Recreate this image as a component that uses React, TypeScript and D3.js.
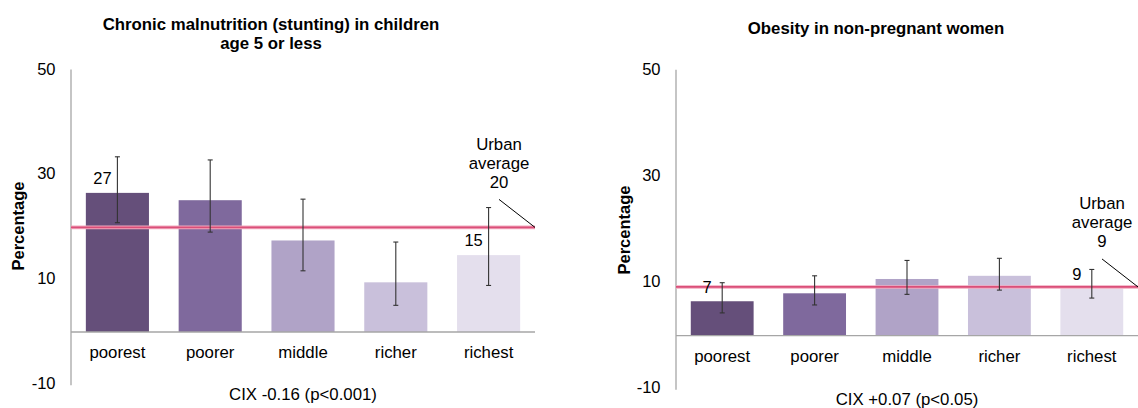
import React from "react";
import * as d3 from "d3";

const categories = ["poorest", "poorer", "middle", "richer", "richest"];
const barColors = ["#654F7A", "#7F699D", "#B0A3C7", "#C9C0DB", "#E4DFED"];
const yTicks = [50, 30, 10, -10];

const stuntingTitle = ["Chronic malnutrition (stunting) in children", "age 5 or less"];
const stuntingValues = [26.6, 25.2, 17.5, 9.5, 14.7];
const stuntingLow = [20.9, 19.1, 11.7, 5.1, 8.9];
const stuntingHigh = [33.5, 32.9, 25.4, 17.2, 23.8];
const stuntingLabels = ["27", "", "", "", "15"];
const stuntingUrban = 20;
const stuntingUrbanLabel = "20";
const stuntingCix = "CIX -0.16 (p<0.001)";

const obesityTitle = ["Obesity in non-pregnant women"];
const obesityValues = [6.5, 8.0, 10.7, 11.3, 8.9];
const obesityLow = [4.3, 5.8, 7.8, 8.6, 7.1];
const obesityHigh = [10.0, 11.3, 14.2, 14.6, 12.5];
const obesityLabels = ["7", "", "", "", "9"];
const obesityUrban = 9.2;
const obesityUrbanLabel = "9";
const obesityCix = "CIX +0.07 (p<0.05)";

const FONT = "'Liberation Sans', Arial, sans-serif";

type PanelProps = {
  title: string[];
  titleX: number;
  titleY: number[];
  values: number[];
  low: number[];
  high: number[];
  labels: string[];
  urban: number;
  urbanLabel: string;
  cix: string;
  x0: number;
  x1: number;
  yTop: number;
  yBottom: number;
  pctX: number;
  pctY: number;
  cixY: number;
};

function Panel(p: PanelProps) {
  const x = d3
    .scaleBand<string>()
    .domain(categories)
    .range([p.x0, p.x1])
    .paddingInner(0.32)
    .paddingOuter(0.16);
  const y = d3.scaleLinear().domain([-10, 50]).range([p.yBottom, p.yTop]);
  const y0 = y(0);
  const bw = x.bandwidth();
  const yu = y(p.urban);
  const ax = p.x1 - 36;
  return (
    <g>
      {p.title.map((t, i) => (
        <text
          key={"t" + i}
          x={p.titleX}
          y={p.titleY[i]}
          textAnchor="middle"
          dominantBaseline="middle"
          fontWeight="bold"
          fontSize={16.8}
          fill="#000"
        >
          {t}
        </text>
      ))}
      {yTicks.map((t) => (
        <text
          key={"yt" + t}
          x={p.x0 - 15.5}
          y={y(t)}
          textAnchor="end"
          dominantBaseline="middle"
          fontSize={16.5}
          fill="#000"
        >
          {t}
        </text>
      ))}
      <text
        transform={`translate(${p.pctX},${p.pctY}) rotate(-90)`}
        textAnchor="middle"
        dominantBaseline="middle"
        fontWeight="bold"
        fontSize={16.5}
        fill="#000"
      >
        Percentage
      </text>
      {categories.map((c, i) => (
        <rect
          key={"b" + c}
          x={x(c)}
          y={y(p.values[i])}
          width={bw}
          height={y0 - y(p.values[i])}
          fill={barColors[i]}
        />
      ))}
      <line x1={p.x0} x2={p.x0} y1={p.yTop - 1} y2={p.yBottom + 1} stroke="#A6A6A6" strokeWidth={1.3} />
      <line x1={p.x0} x2={p.x1} y1={y0} y2={y0} stroke="#A6A6A6" strokeWidth={1.3} />
      <line x1={p.x0} x2={p.x1} y1={yu} y2={yu} stroke="#F2A9BE" strokeWidth={3.6} />
      <line x1={p.x0} x2={p.x1} y1={yu} y2={yu} stroke="#DA4F79" strokeWidth={1.8} />
      {categories.map((c, i) => {
        const cx = (x(c) as number) + bw / 2;
        return (
          <g key={"e" + c} stroke="#333" strokeWidth={1.1}>
            <line x1={cx} x2={cx} y1={y(p.high[i])} y2={y(p.low[i])} />
            <line x1={cx - 2.5} x2={cx + 2.5} y1={y(p.high[i])} y2={y(p.high[i])} />
            <line x1={cx - 2.5} x2={cx + 2.5} y1={y(p.low[i])} y2={y(p.low[i])} />
          </g>
        );
      })}
      {categories.map((c, i) =>
        p.labels[i] ? (
          <text
            key={"l" + c}
            x={(x(c) as number) + bw / 2 - 15}
            y={y(p.values[i]) - 13}
            textAnchor="middle"
            dominantBaseline="middle"
            fontSize={16.5}
            fill="#000"
          >
            {p.labels[i]}
          </text>
        ) : null
      )}
      {categories.map((c) => (
        <text
          key={"c" + c}
          x={(x(c) as number) + bw / 2}
          y={y0 + 22}
          textAnchor="middle"
          dominantBaseline="middle"
          fontSize={16.8}
          fill="#000"
        >
          {c}
        </text>
      ))}
      {["Urban", "average", p.urbanLabel].map((t, i) => (
        <text
          key={"u" + i}
          x={ax}
          y={yu - 82 + i * 19}
          textAnchor="middle"
          dominantBaseline="middle"
          fontSize={16.8}
          fill="#000"
        >
          {t}
        </text>
      ))}
      <line x1={ax} y1={yu - 28} x2={p.x1} y2={yu} stroke="#000" strokeWidth={1} />
      <text
        x={(p.x0 + p.x1) / 2}
        y={p.cixY}
        textAnchor="middle"
        dominantBaseline="middle"
        fontSize={16.8}
        fill="#000"
      >
        {p.cix}
      </text>
    </g>
  );
}

export default function App() {
  return (
    <svg
      width={1138}
      height={408}
      style={{ position: "absolute", left: 0, top: 0, background: "#fff" }}
      fontFamily={FONT}
    >
      <rect width={1138} height={408} fill="#fff" />
      <Panel
        title={stuntingTitle}
        titleX={271}
        titleY={[26, 45]}
        values={stuntingValues}
        low={stuntingLow}
        high={stuntingHigh}
        labels={stuntingLabels}
        urban={stuntingUrban}
        urbanLabel={stuntingUrbanLabel}
        cix={stuntingCix}
        x0={71}
        x1={535}
        yTop={70.5}
        yBottom={384.3}
        pctX={19.5}
        pctY={226}
        cixY={396}
      />
      <Panel
        title={obesityTitle}
        titleX={876}
        titleY={[29.3]}
        values={obesityValues}
        low={obesityLow}
        high={obesityHigh}
        labels={obesityLabels}
        urban={obesityUrban}
        urbanLabel={obesityUrbanLabel}
        cix={obesityCix}
        x0={676}
        x1={1138}
        yTop={70.7}
        yBottom={388.7}
        pctX={626}
        pctY={230}
        cixY={401}
      />
    </svg>
  );
}
